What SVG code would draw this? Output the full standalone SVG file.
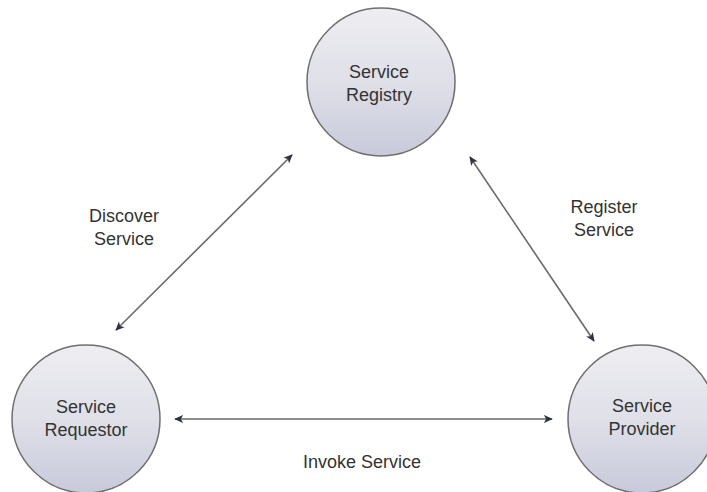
<svg xmlns="http://www.w3.org/2000/svg" width="707" height="492" viewBox="0 0 707 492">
  <style>
    .node circle { fill: url(#orb); stroke: #6f6f6f; stroke-width: 1.5; }
    .label { font-family: "Liberation Sans", Arial, sans-serif; font-size: 18px; fill: #333; text-anchor: middle; }
    .link { stroke: #6a6a6a; stroke-width: 1.6; fill: none; marker-start: url(#head); marker-end: url(#head); }
  </style>
  <defs>
    <linearGradient id="orb" x1="0" y1="0" x2="0" y2="1">
      <stop offset="0" stop-color="#eeeef2"/>
      <stop offset="0.5" stop-color="#dfe0e8"/>
      <stop offset="1" stop-color="#c8cadb"/>
    </linearGradient>
    <marker id="head" viewBox="0 0 10 10" refX="9" refY="5" markerWidth="9" markerHeight="9" markerUnits="userSpaceOnUse" orient="auto-start-reverse">
      <path d="M0,0.5 L10,5 L0,9.5 L2.5,5 Z" fill="#2f3340"/>
    </marker>
  </defs>

  <!-- services -->
  <g id="registry" class="node">
    <circle cx="381" cy="82" r="74"/>
    <text class="label" x="379" y="78">Service</text>
    <text class="label" x="379" y="101">Registry</text>
  </g>
  <g id="requestor" class="node">
    <circle cx="86" cy="419" r="74"/>
    <text class="label" x="86" y="413">Service</text>
    <text class="label" x="86" y="436">Requestor</text>
  </g>
  <g id="provider" class="node">
    <circle cx="642" cy="419" r="74"/>
    <text class="label" x="642" y="412">Service</text>
    <text class="label" x="642" y="435">Provider</text>
  </g>

  <!-- interactions -->
  <g id="connectors">
    <line class="link" x1="116" y1="330" x2="292" y2="155"/>
    <line class="link" x1="470" y1="157" x2="594" y2="341"/>
    <line class="link" x1="175" y1="419" x2="552" y2="419"/>
  </g>

  <g id="connector-labels">
    <text class="label" x="124" y="222">Discover</text>
    <text class="label" x="124" y="245">Service</text>
    <text class="label" x="604" y="213">Register</text>
    <text class="label" x="604" y="236">Service</text>
    <text class="label" x="362" y="468">Invoke Service</text>
  </g>
</svg>
